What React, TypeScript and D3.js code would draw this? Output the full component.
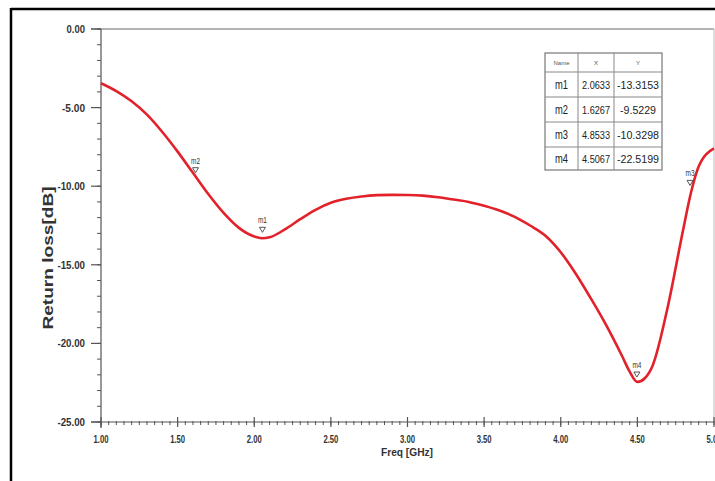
import React from "react";
import * as d3 from "d3";

const freq = [1.0, 1.1, 1.2, 1.3, 1.4, 1.5, 1.6, 1.7, 1.8, 1.9, 2.0, 2.05, 2.1, 2.2, 2.3, 2.4, 2.5, 2.6, 2.7, 2.8, 2.9, 3.0, 3.1, 3.2, 3.3, 3.4, 3.5, 3.6, 3.7, 3.8, 3.9, 4.0, 4.1, 4.2, 4.3, 4.4, 4.45, 4.5, 4.55, 4.6, 4.7, 4.8, 4.85, 4.9, 5.0];
const s11 = [-3.45, -3.95, -4.6, -5.45, -6.55, -7.8, -9.15, -10.5, -11.7, -12.65, -13.2, -13.31, -13.25, -12.75, -12.1, -11.5, -11.05, -10.8, -10.65, -10.57, -10.55, -10.56, -10.6, -10.7, -10.85, -11.0, -11.25, -11.55, -11.95, -12.5, -13.15, -14.2, -15.6, -17.2, -18.9, -20.8, -21.8, -22.45, -22.2, -21.4, -17.6, -12.7, -10.4, -8.75, -7.6];

const markerNames = ["m1", "m2", "m3", "m4"];
const markerX = [2.0633, 1.6267, 4.8533, 4.5067];
const markerY = [-13.3153, -9.5229, -10.3298, -22.5199];
const markerXText = ["2.0633", "1.6267", "4.8533", "4.5067"];
const markerYText = ["-13.3153", "-9.5229", "-10.3298", "-22.5199"];

const xTicks = [1.0, 1.5, 2.0, 2.5, 3.0, 3.5, 4.0, 4.5, 5.0];
const yTicks = [0, -5, -10, -15, -20, -25];

const FONT = "'Liberation Sans', Arial, sans-serif";

export default function App() {
  const W = 715, H = 481;
  const x = d3.scaleLinear().domain([1, 5]).range([101, 714]);
  const y = d3.scaleLinear().domain([0, -25]).range([29, 422]);
  const line = d3
    .line<number>()
    .x((_, i) => x(freq[i]))
    .y((d) => y(d))
    .curve(d3.curveMonotoneX);

  const xMinor = d3.range(1, 5.0001, 0.05);
  const yMinor = d3.range(0, -25.0001, -1);

  const tableX = [545, 578, 614, 662];
  const tableRowY = [53, 72, 97, 122, 147, 170];

  return (
    <svg width={W} height={H} style={{ position: "absolute", left: 0, top: 0, background: "#fff" }}>
      <rect x={0} y={0} width={W} height={H} fill="#fff" />
      {/* outer frame */}
      <line x1={11} y1={9} x2={W} y2={9} stroke="#000" strokeWidth={2.5} />
      <line x1={11} y1={8} x2={11} y2={H} stroke="#000" strokeWidth={2.5} />

      {/* plot borders */}
      <line x1={91} y1={y(0)} x2={714} y2={y(0)} stroke="#666" strokeWidth={1.2} />
      <line x1={714} y1={y(0)} x2={714} y2={y(-25)} stroke="#bbb" strokeWidth={1} />
      <line x1={91} y1={y(-25)} x2={714} y2={y(-25)} stroke="#555" strokeWidth={1.2} />
      <line x1={x(1)} y1={y(0)} x2={x(1)} y2={428} stroke="#555" strokeWidth={1.2} />

      {/* y ticks */}
      {yMinor.map((v, i) => (
        <line key={"ym" + i} x1={97} x2={x(1)} y1={y(v)} y2={y(v)} stroke="#555" strokeWidth={1} />
      ))}
      {yTicks.map((v) => {
        const s = v.toFixed(2);
        return (
          <g key={"yt" + v}>
            <line x1={91} x2={x(1)} y1={y(v)} y2={y(v)} stroke="#555" strokeWidth={1.2} />
            <text x={85} y={y(v) + 4} textAnchor="end" fontFamily={FONT} fontSize={11} fontWeight="bold" fill="#333"
              textLength={s.length * 4.6} lengthAdjust="spacingAndGlyphs">
              {s}
            </text>
          </g>
        );
      })}

      {/* x ticks */}
      {xMinor.map((v, i) => (
        <line key={"xm" + i} x1={x(v)} x2={x(v)} y1={y(-25) - 1} y2={y(-25) + 3} stroke="#555" strokeWidth={1} />
      ))}
      {xTicks.map((v) => (
        <g key={"xt" + v}>
          <line x1={x(v)} x2={x(v)} y1={y(-25) - 5} y2={y(-25) + 5} stroke="#555" strokeWidth={1.2} />
          <text x={x(v)} y={443} textAnchor="middle" fontFamily={FONT} fontSize={11.5} fontWeight="bold" fill="#333"
            textLength={15} lengthAdjust="spacingAndGlyphs">
            {v.toFixed(2)}
          </text>
        </g>
      ))}

      {/* axis titles */}
      <text x={407} y={456} textAnchor="middle" fontFamily={FONT} fontSize={11} fontWeight="bold" fill="#333"
        textLength={52} lengthAdjust="spacingAndGlyphs">
        Freq [GHz]
      </text>
      <text transform={`translate(53,258) rotate(-90)`} textAnchor="middle" fontFamily={FONT}
        fontSize={14} fontWeight="bold" fill="#333" textLength={143} lengthAdjust="spacingAndGlyphs">
        Return loss[dB]
      </text>

      {/* curve */}
      <path d={line(s11) || ""} fill="none" stroke="#e3212b" strokeWidth={2.6} />

      {/* markers */}
      {markerNames.map((n, i) => {
        const px = x(markerX[i]);
        const py = y(markerY[i]);
        return (
          <g key={n}>
            <path d={`M${px - 4.5},${py - 11} L${px + 1.5},${py - 11} L${px - 1.5},${py - 6} Z`} fill="none" stroke="#444" strokeWidth={0.9} />
            <text x={px - 1.5} y={py - 15} textAnchor="middle" fontFamily={FONT} fontSize={8.5} fill="#333"
              textLength={9} lengthAdjust="spacingAndGlyphs">
              {n}
            </text>
          </g>
        );
      })}

      {/* marker table */}
      <rect x={tableX[0]} y={tableRowY[0]} width={tableX[3] - tableX[0]} height={tableRowY[5] - tableRowY[0]} fill="#fff" stroke="#777" strokeWidth={1.2} />
      {tableRowY.slice(1, 5).map((ry, i) => (
        <line key={"tr" + i} x1={tableX[0]} x2={tableX[3]} y1={ry} y2={ry} stroke="#888" strokeWidth={1} />
      ))}
      {tableX.slice(1, 3).map((cx, i) => (
        <line key={"tc" + i} x1={cx} x2={cx} y1={tableRowY[0]} y2={tableRowY[5]} stroke="#888" strokeWidth={1} />
      ))}
      {["Name", "X", "Y"].map((h, j) => (
        <text key={"th" + j} x={(tableX[j] + tableX[j + 1]) / 2} y={(tableRowY[0] + tableRowY[1]) / 2 + 2} textAnchor="middle"
          fontFamily={FONT} fontSize={6} fill="#555">
          {h}
        </text>
      ))}
      {markerNames.map((n, i) => {
        const cy = (tableRowY[i + 1] + tableRowY[i + 2]) / 2 + 4;
        return (
          <g key={"row" + n}>
            <text x={(tableX[0] + tableX[1]) / 2} y={cy} textAnchor="middle" fontFamily={FONT} fontSize={12} fill="#222"
              textLength={13} lengthAdjust="spacingAndGlyphs">{n}</text>
            <text x={(tableX[1] + tableX[2]) / 2} y={cy} textAnchor="middle" fontFamily={FONT} fontSize={11.5} fill="#222"
              textLength={28} lengthAdjust="spacingAndGlyphs">{markerXText[i]}</text>
            <text x={(tableX[2] + tableX[3]) / 2} y={cy} textAnchor="middle" fontFamily={FONT} fontSize={11.5} fill="#222"
              textLength={markerYText[i].length > 7 ? 42 : 36} lengthAdjust="spacingAndGlyphs">{markerYText[i]}</text>
          </g>
        );
      })}
    </svg>
  );
}
